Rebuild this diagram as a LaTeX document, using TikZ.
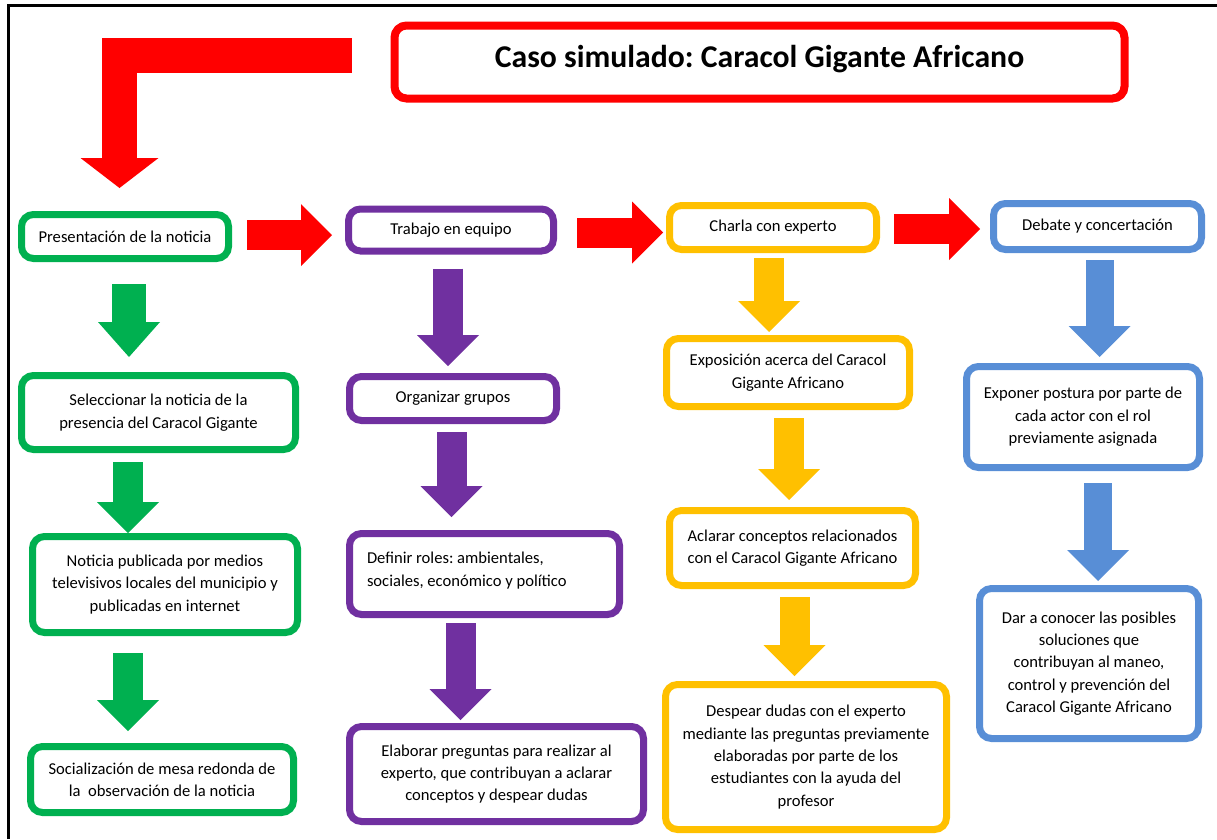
\documentclass[tikz,border=0pt]{standalone}
\usepackage{fontspec}
\setmainfont{Carlito}
\usepackage{tikz}
\usetikzlibrary{arrows.meta}
\usetikzlibrary{calc}
\frenchspacing

\definecolor{rojo}{HTML}{FF0000}
\definecolor{verde}{HTML}{00B050}
\definecolor{morado}{HTML}{7030A0}
\definecolor{amarillo}{HTML}{FFC000}
\definecolor{azul}{HTML}{588ED6}

\tikzset{
  caja/.style={draw=#1, line width=7pt, rounded corners=12pt, fill=white, align=center,
    font=\fontsize{16.6}{22.4}\selectfont, inner sep=4pt},
  tam/.style 2 args={minimum width=#1pt-7pt, minimum height=#2pt-7pt},
  flecha/.style={draw=#1, line width=30pt, line join=miter,
    -{Triangle[width=62pt,length=31pt,line width=0pt]}},
}

\begin{document}
\begin{tikzpicture}[x=1pt, y=-1pt]
      \useasboundingbox (0,0) rectangle (1217,839);
      \draw[line width=3pt] (8,839) |- (1217,5);

      \node[caja=rojo, tam={737}{80}, line width=8pt, font=\fontsize{31.7}{36}\selectfont\bfseries, text depth=12pt] (titulo) at (759.5,62) {Caso simulado: Caracol Gigante Africano};

      \node[caja=verde, tam={214}{51}] (p1) at (125,236.5) {Presentación de la noticia};
      \node[caja=verde, tam={281}{81}] (p2) at (158.5,412.5) {Seleccionar la noticia de la\\presencia del Caracol Gigante};
      \node[caja=verde, tam={272}{103}] (p3) at (165,584.5) {Noticia publicada por medios\\televisivos locales del municipio y\\publicadas en internet};
      \node[caja=verde, tam={270}{73}] (p4) at (162,779.5) {Socialización de mesa redonda de\\la~ observación de la noticia};

      \node[caja=morado, tam={212}{49}] (t1) at (451,230) {Trabajo en equipo};
      \node[caja=morado, tam={214}{51}] (t2) at (453,398.5) {Organizar grupos};
      \node[caja=morado, tam={277}{88}, align=flush left, text width=235pt, inner xsep=17.5pt, text depth=32pt] (t3) at (484.5,574) {Definir roles: ambientales,\\sociales, económico y político};
      \node[caja=morado, tam={301}{102}] (t4) at (496.5,774) {Elaborar preguntas para realizar al\\experto, que contribuyan a aclarar\\conceptos y despear dudas};

      \node[caja=amarillo, tam={214}{51}] (c1) at (773,227.5) {Charla con experto};
      \node[caja=amarillo, tam={250}{75}] (c2) at (788,372.5) {Exposición acerca del Caracol\\Gigante Africano};
      \node[caja=amarillo, tam={253}{82}] (c3) at (792.5,548) {Aclarar conceptos relacionados\\con el Caracol Gigante Africano};
      \node[caja=amarillo, tam={288}{152}] (c4) at (806,757) {Despear dudas con el experto\\mediante las preguntas previamente\\elaboradas por parte de los\\estudiantes con la ayuda del\\profesor};

      \node[caja=azul, tam={215}{53}] (d1) at (1097.5,226.5) {Debate y concertación};
      \node[caja=azul, tam={240}{108}] (d2) at (1083,417) {Exponer postura por parte de\\cada actor con el rol\\previamente asignada};
      \node[caja=azul, tam={226}{157}] (d3) at (1089,663.5) {Dar a conocer las posibles\\soluciones que\\contribuyan al maneo,\\control y prevención del\\Caracol Gigante Africano};

      \draw[flecha=rojo, line width=35pt, -{Triangle[width=78pt,length=30pt,line width=0pt]}] ($(titulo.west)+(-39,-6.5)$) -| ($(p1.north)+(-5.5,-23)$);
      \draw[flecha=rojo] ($(p1.east)+(15,-1.5)$) -- ($(t1.west)+(-13,5)$);
      \draw[flecha=rojo] ($(t1.east)+(20,2.5)$) -- ($(c1.west)+(-3,5)$);
      \draw[flecha=rojo] ($(c1.east)+(14,1.5)$) -- ($(d1.west)+(-10,2.5)$);

      \draw[flecha=verde, line width=34pt, -{Triangle[width=62pt,length=35pt,line width=0pt]}] ($(p1.south)+(4,22)$) -- ($(p2.north)+(-29.5,-15)$);
      \draw[flecha=verde] ($(p2.south)+(-30.5,9)$) -- ($(p3.north)+(-37,0)$);
      \draw[flecha=verde] ($(p3.south)+(-37,17)$) -- ($(p4.north)+(-34,-12)$);

      \draw[flecha=morado] ($(t1.south)+(-3,14)$) -- ($(t2.north)+(-5,-7)$);
      \draw[flecha=morado] ($(t2.south)+(-1.5,8)$) -- ($(t3.north)+(-33,-13)$);
      \draw[flecha=morado] ($(t3.south)+(-24,5)$) -- ($(t4.north)+(-36,-3)$);

      \draw[flecha=amarillo] ($(c1.south)+(-4,5)$) -- ($(c2.north)+(-19,-3)$);
      \draw[flecha=amarillo] ($(c2.south)+(1,8)$) -- ($(c3.north)+(-3.5,-7)$);
      \draw[flecha=amarillo] ($(c3.south)+(2,8)$) -- ($(c4.north)+(-11.5,-5)$);

      \draw[flecha=azul, line width=28pt] ($(d1.south)+(2,7)$) -- ($(d2.north)+(16.5,-6)$);
      \draw[flecha=azul, line width=28pt] ($(d2.south)+(15,12)$) -- ($(d3.north)+(9,-4)$);
\end{tikzpicture}
\end{document}
